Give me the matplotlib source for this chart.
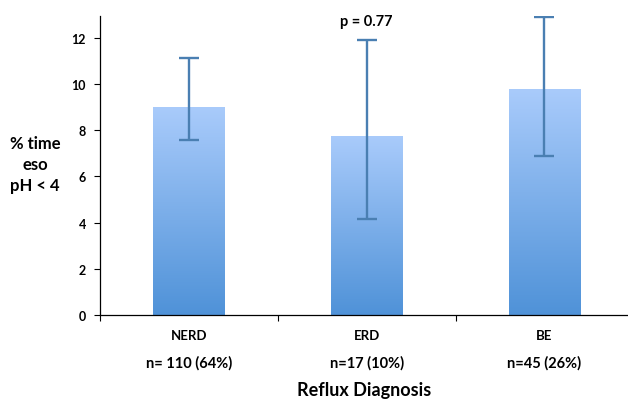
import matplotlib

matplotlib.use("Agg")
import matplotlib.pyplot as plt
import numpy as np
from matplotlib.colors import LinearSegmentedColormap

plt.rcParams["font.family"] = ["Lato", "DejaVu Sans"]

categories = ["NERD", "ERD", "BE"]
counts = ["n= 110 (64%)", "n=17 (10%)", "n=45 (26%)"]
means = [9.0, 7.75, 9.78]
err_low = [7.58, 4.15, 6.88]
err_high = [11.13, 11.9, 12.9]

fig = plt.figure(figsize=(6.28, 4.02), dpi=100)
ax = fig.add_axes([0.159, 0.214, 0.841, 0.744])

x = np.arange(len(categories))
bars = ax.bar(x, means, width=0.4, color="none", edgecolor="none", zorder=2)

# vertical gradient fill, dark at the base, light at the top
grad = LinearSegmentedColormap.from_list("bar", ["#4f92d8", "#a9cbfb"])
for b in bars:
    im = ax.imshow(np.linspace(0, 1, 256).reshape(-1, 1), cmap=grad, origin="lower",
                   aspect="auto", extent=[b.get_x(), b.get_x() + b.get_width(), 0, b.get_height()],
                   zorder=2)
    im.set_clip_path(b)

yerr = [np.array(means) - np.array(err_low), np.array(err_high) - np.array(means)]
ax.errorbar(x, means, yerr=yerr, fmt="none", ecolor="#4a7fb2", elinewidth=1.7,
            capsize=7, capthick=1.7, zorder=3)

ax.set_xlim(-0.5, 2.47)
ax.set_ylim(0, 12.95)
ax.set_yticks(range(0, 13, 2))
ax.tick_params(axis="y", direction="out", length=4, width=0.8, labelsize=9, pad=6)
for lbl in ax.get_yticklabels():
    lbl.set_fontweight("bold")

ax.set_xticks([-0.5, 0.5, 1.5])
ax.set_xticklabels([])
ax.tick_params(axis="x", direction="out", length=4, width=0.8)
for xi, cat, n in zip(x, categories, counts):
    ax.text(xi, -0.85, cat, ha="center", va="center", fontsize=9.5, fontweight="bold",
            clip_on=False)
    ax.text(xi, -2.05, n, ha="center", va="center", fontsize=10.5, fontweight="bold",
            clip_on=False)

for s in ["top", "right"]:
    ax.spines[s].set_visible(False)
for s in ["left", "bottom"]:
    ax.spines[s].set_linewidth(0.9)

fig.text(0.056, 0.59, "% time\neso\npH < 4", ha="center", va="center", fontsize=12,
         fontweight="bold", linespacing=1.4)
fig.text(0.58, 0.028, "Reflux Diagnosis", ha="center", va="center", fontsize=13,
         fontweight="bold")
ax.text(1, 12.75, "p = 0.77", ha="center", va="center", fontsize=10.5, fontweight="bold")

fig.savefig("out.png", dpi=100)
